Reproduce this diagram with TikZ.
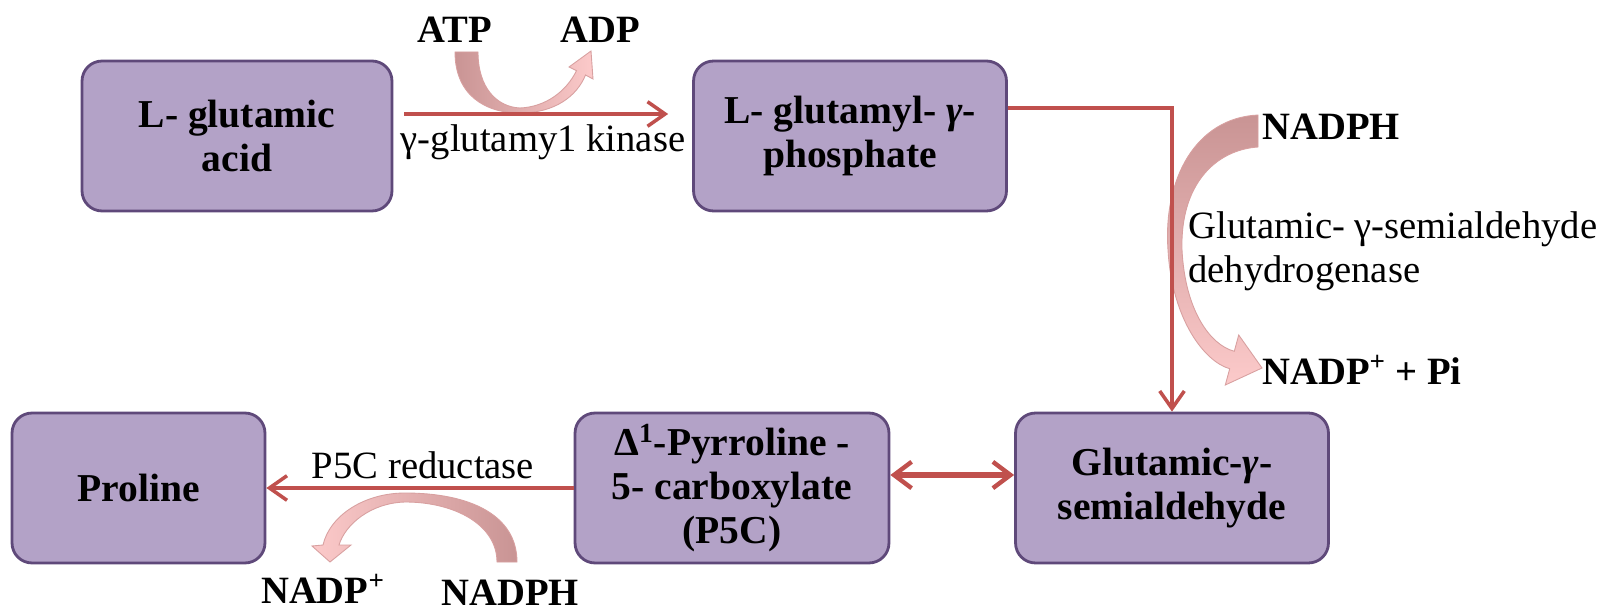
\documentclass[tikz,border=0pt]{standalone}
\usepackage{fontspec}
\setmainfont{Liberation Serif}
\usetikzlibrary{arrows.meta,calc}
\definecolor{boxfill}{HTML}{B3A2C7}
\definecolor{boxline}{HTML}{5F497A}
\definecolor{rarrow}{HTML}{C0504D}
\definecolor{pinkdark}{HTML}{C99494}
\definecolor{pinklight}{HTML}{FCCACA}
\definecolor{pinkedge}{HTML}{D8A0A0}
\begin{document}
\begin{tikzpicture}[x=0.02cm,y=-0.02cm,
  box/.style={draw=boxline, fill=boxfill, line width=1.6pt, rounded corners=0.4cm,
    minimum height=3cm, align=center, inner sep=0pt,
    font=\bfseries\fontsize{22.5}{25}\selectfont},
  lbl/.style={inner sep=0pt, font=\fontsize{22}{25}\selectfont},
  blbl/.style={inner sep=0pt, font=\bfseries\fontsize{22}{25}\selectfont},
  conn/.style={draw=rarrow, line width=2pt, -{Straight Barb[length=10pt,width=14pt,line width=2pt]}},
  dconn/.style={draw=rarrow, line width=3pt, {Straight Barb[length=10pt,width=15pt,line width=2.5pt]}-{Straight Barb[length=10pt,width=15pt,line width=2.5pt]}},
  curv/.style={draw=pinkedge, line width=0.5pt}]
\fill[white] (0,0) rectangle (1615,614);
\useasboundingbox (0,0) rectangle (1615,614);

% boxes
\node[box, minimum width=6.2cm] (glu) at (237,136) {L- glutamic\\acid};
\node[box, minimum width=6.26cm] (gp) at (850,136) {L- glutamyl- \textit{γ}-\\phosphate};
\node[box, minimum width=6.26cm] (gsa) at (1172,488) {Glutamic-\textit{γ}-\\semialdehyde};
\node[box, minimum width=6.28cm] (p5c) at (732,488) {Δ\textsuperscript{1}-Pyrroline -\\5- carboxylate\\(P5C)};
\node[box, minimum width=5.06cm] (pro) at (138.5,488) {Proline};

% labels
\node[blbl] (atp) at (455,30) {ATP};
\node[blbl] (adp) at (600,30) {ADP};
\node[lbl] (gk) at (543,142) {γ-glutamy1 kinase};
\node[blbl, anchor=west] (nadph1) at (1262,127) {NADPH};
\node[lbl, anchor=west, align=left] (gsdh) at (1188,251) {Glutamic- γ-semialdehyde\\dehydrogenase};
\node[blbl, anchor=west] (nadp1) at (1262,370) {NADP\textsuperscript{+} + Pi};
\node[lbl] (p5cr) at (423,465) {P5C reductase};
\node[blbl] (nadp2) at (323,589) {NADP\textsuperscript{+}};
\node[blbl] (nadph2) at (510,593) {NADPH};

% curved cofactor arrows
\shadedraw[curv, left color=pinkdark, right color=pinklight]
  (455,52) .. controls (455,95) and (485,113) .. (520,113)
  .. controls (555,113) and (577,96) .. (585.5,75)
  -- (593,79) -- (591,51) -- (569,67) -- (576.5,70.7)
  .. controls (566,92) and (545,107) .. (520,108)
  .. controls (497,107) and (478,88) .. (478,52) -- cycle;
\shadedraw[curv, top color=pinkdark, bottom color=pinklight]
  (1258,115) .. controls (1195,118) and (1163,180) .. (1168,250)
  .. controls (1172,320) and (1205,362) .. (1229.7,368.7)
  -- (1225.3,385) -- (1262,368) -- (1238.7,335) -- (1234.3,351.3)
  .. controls (1210,345) and (1185,310) .. (1182,250)
  .. controls (1180,185) and (1215,150) .. (1258,147) -- cycle;
\shadedraw[curv, left color=pinklight, right color=pinkdark]
  (517,562) .. controls (517,515) and (470,493) .. (405,493)
  .. controls (365,493) and (330,515) .. (323,545)
  -- (312,546) -- (330,562) -- (351,545) -- (339,545)
  .. controls (345,525) and (370,503) .. (405,502)
  .. controls (455,502) and (497,525) .. (497,562) -- cycle;

% connectors
\draw[conn] ($(glu.east)+(11,-22)$) -- ($(gp.west)+(-24,-22)$);
\draw[conn] ($(gp.east)+(0,-28)$) -| (gsa.north);
\draw[conn] (p5c.west) -- (pro.east);
\draw[dconn] ($(p5c.east)+(0,-13)$) -- ($(gsa.west)+(0,-13)$);
\end{tikzpicture}
\end{document}
